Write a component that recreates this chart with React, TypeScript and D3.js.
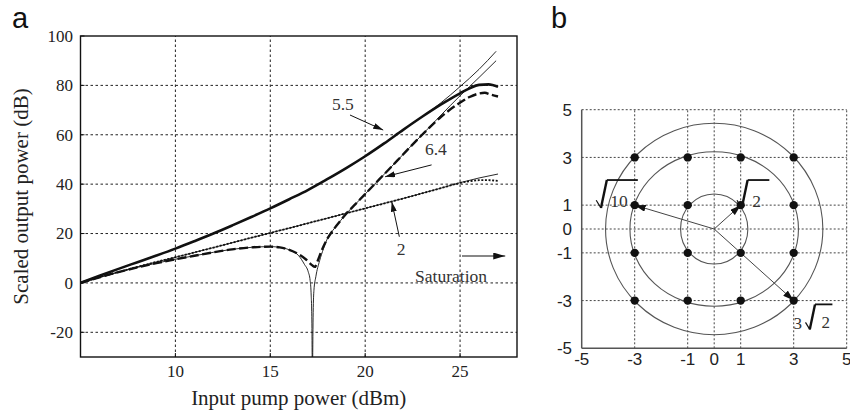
import React from 'react';
import * as d3 from 'd3';

// ---------- Panel a data ----------
const aXTicks = [10, 15, 20, 25];
const aYTicks = [-20, 0, 20, 40, 60, 80, 100];
const aXGrid = [10, 15, 20, 25];
const aYGrid = [-20, 0, 20, 40, 60, 80];

// saturated, 5.5 (thick solid)
const sat55X = [5, 6, 7, 8, 9, 10, 11, 12, 13, 14, 15, 16, 17, 18, 19, 20, 21, 22, 23, 24, 25, 25.5, 26, 26.5, 27];
const sat55Y = [0, 2.9, 5.7, 8.4, 11.1, 13.9, 16.9, 20, 23.3, 26.7, 30.2, 33.9, 37.7, 42, 46.5, 51.3, 56.5, 62, 67.3, 72.3, 76.8, 78.8, 80.2, 80.4, 79.4];
// unsaturated, 5.5 (thin solid)
const ideal55X = [5, 6, 7, 8, 9, 10, 11, 12, 13, 14, 15, 16, 17, 18, 19, 20, 21, 22, 23, 24, 25, 26, 26.9];
const ideal55Y = [0, 2.9, 5.7, 8.4, 11.1, 13.9, 16.9, 20, 23.3, 26.7, 30.2, 33.9, 37.7, 42, 46.5, 51.3, 56.5, 62, 67.3, 73, 79.5, 86.5, 93.8];
// saturated, 6.4 (thick dashed)
const sat64X = [5, 6, 7, 8, 9, 10, 11, 12, 13, 14, 15, 15.5, 16, 16.5, 16.9, 17.2, 17.35, 17.5, 17.7, 18, 18.4, 18.7, 19, 19.5, 20, 20.5, 21, 21.7, 22.3, 23, 24, 25, 25.5, 26, 26.3, 26.6, 27];
const sat64Y = [0, 2.3, 4.4, 6.3, 8, 9.6, 11, 12.4, 13.6, 14.4, 14.7, 14.4, 13.4, 11.6, 9.4, 7.2, 6.5, 9, 13, 17.8, 22.3, 25.2, 28, 32, 36, 40, 44, 49.6, 54.5, 60, 67.3, 73, 75.3, 76.7, 77, 76.3, 75.5];
// unsaturated, 6.4 (thin solid, two branches around the null)
const ideal64LeftX = [5, 6, 7, 8, 9, 10, 11, 12, 13, 14, 15, 15.5, 16, 16.5, 16.8, 17.0, 17.1, 17.15, 17.19, 17.21];
const ideal64LeftY = [0, 2.3, 4.4, 6.3, 8, 9.6, 11, 12.4, 13.6, 14.4, 14.7, 14.4, 13.4, 11, 7.5, 4.5, 1, -4, -15, -35];
const ideal64RightX = [17.23, 17.26, 17.3, 17.4, 17.6, 17.8, 18, 18.4, 18.7, 19, 19.5, 20, 20.5, 21, 21.7, 22.3, 23, 24, 25, 26, 26.9];
const ideal64RightY = [-35, -12, -3, 2.5, 9, 13.8, 17.8, 22.3, 25.2, 28, 32, 36, 40, 44, 49.6, 54.5, 60, 68, 75.8, 83.2, 90];
// 2 (thin solid + dotted)
const ideal2X = [5, 6, 7, 8, 9, 10, 12, 14, 16, 18, 20, 22, 24, 25, 26, 27];
const ideal2Y = [0, 2.3, 4.4, 6.5, 8.5, 10.4, 14.3, 18.3, 22.2, 26.2, 30.2, 34.2, 38.4, 40.6, 42.5, 44.1];
const sat2X = [5, 6, 7, 8, 9, 10, 12, 14, 16, 18, 20, 22, 24, 25, 25.5, 26, 26.5, 27];
const sat2Y = [0, 2.3, 4.4, 6.5, 8.5, 10.4, 14.3, 18.3, 22.2, 26.2, 30.2, 34.2, 38.4, 40.5, 41.2, 41.6, 41.6, 41.3];

// annotations (data coords)
const annLabels = ['5.5', '6.4', '2'];
const annTextX = [18.25, 23.15, 21.9];
const annTextY = [70, 51.8, 11.3];
const annFromX = [19.2, 23.5, 21.8];
const annFromY = [68, 47.8, 18.7];
const annToX = [20.95, 21.05, 21.4];
const annToY = [61.9, 43.0, 32.9];
const satLabel = 'Saturation';
const satTextX = 22.63;
const satTextY = 0.4;
const satArrowX = [25.1, 27.38];
const satArrowY = 10.9;

// ---------- Panel b data ----------
const bTicks = [-5, -3, -1, 0, 1, 3, 5];
const bGrid = [-3, -1, 0, 1, 3, 5];
const qamI = [-3, -1, 1, 3];
const qamQ = [-3, -1, 1, 3];
const ringRx = [1.27, 3.18, 4.1];
const ringRy = [1.47, 3.24, 4.43];
const vecI = [1, -3, 3];
const vecQ = [1, 1, -3];

const SERIF = "'Liberation Serif', 'Times New Roman', serif";
const SANS = "'Liberation Sans', Arial, sans-serif";

const aX = d3.scaleLinear().domain([5, 28]).range([80.5, 517]);
const aY = d3.scaleLinear().domain([-30, 100]).range([357, 36]);
const bX = d3.scaleLinear().domain([-5, 5]).range([581.7, 846.7]);
const bY = d3.scaleLinear().domain([-5, 5]).range([348.3, 109.7]);

const zip = (xs: number[], ys: number[]) => xs.map((x, i) => [x, ys[i]] as [number, number]);
const lineA = d3
  .line<[number, number]>()
  .x((d) => aX(d[0]))
  .y((d) => aY(d[1]))
  .curve(d3.curveMonotoneX);

function Radical({ x, y, h, w, text, fs, gap }: { x: number; y: number; h: number; w: number; text: string; fs: number; gap: number }) {
  const x1 = x + 0.17 * h;
  const x2 = x + 0.38 * h;
  return (
    <g>
      <path d={`M${x},${y - 0.28 * h} L${x1},${y}`} stroke="#111" strokeWidth={1.2} fill="none" />
      <path d={`M${x1},${y} L${x2},${y - h}`} stroke="#111" strokeWidth={2.4} fill="none" />
      <path d={`M${x2},${y - h} L${x2 + w},${y - h}`} stroke="#111" strokeWidth={1.8} fill="none" />
      <text x={x2 + gap} y={y - 1} fontSize={fs} fontFamily={SERIF} fill="#333">
        {text}
      </text>
    </g>
  );
}

export default function App() {
  const [ax0, ax1] = aX.range();
  const [ay0, ay1] = aY.range();
  const [bx0, bx1] = bX.range();
  const [by0, by1] = bY.range();

  return (
    <svg width={850} height={410} style={{ position: 'absolute', left: 0, top: 0, background: '#fff' }}>
      <defs>
        <clipPath id="clipA">
          <rect x={ax0} y={ay1} width={ax1 - ax0} height={ay0 - ay1} />
        </clipPath>
        <marker id="arrA" viewBox="0 0 10 6" refX={10} refY={3} markerWidth={10} markerHeight={6} markerUnits="userSpaceOnUse" orient="auto">
          <path d="M0,0 L10,3 L0,6 Z" fill="#111" />
        </marker>
        <marker id="arrS" viewBox="0 0 12 7" refX={12} refY={3.5} markerWidth={12} markerHeight={7} markerUnits="userSpaceOnUse" orient="auto">
          <path d="M0,0 L12,3.5 L0,7 Z" fill="#111" />
        </marker>
        <marker id="arrB" viewBox="0 0 11 7" refX={11} refY={3.5} markerWidth={11} markerHeight={7} markerUnits="userSpaceOnUse" orient="auto">
          <path d="M0,0 L11,3.5 L0,7 Z" fill="#111" />
        </marker>
      </defs>

      {/* ================= Panel a ================= */}
      <text x={12} y={28} fontSize={29} fontFamily={SANS} fill="#111">
        a
      </text>
      {aXGrid.map((t) => (
        <line key={'gx' + t} x1={aX(t)} x2={aX(t)} y1={ay0} y2={ay1} stroke="#222" strokeWidth={1} strokeDasharray="2.5,2.5" />
      ))}
      {aYGrid.map((t) => (
        <line key={'gy' + t} x1={ax0} x2={ax1} y1={aY(t)} y2={aY(t)} stroke="#222" strokeWidth={1} strokeDasharray="2.5,2.5" />
      ))}
      <g clipPath="url(#clipA)" fill="none">
        <path d={lineA(zip(ideal2X, ideal2Y)) || ''} stroke="#111" strokeWidth={0.9} />
        <path d={lineA(zip(sat2X, sat2Y)) || ''} stroke="#111" strokeWidth={1.8} strokeDasharray="2,1.6" />
        <path d={lineA(zip(ideal64LeftX, ideal64LeftY)) || ''} stroke="#111" strokeWidth={0.9} />
        <path d={lineA(zip(ideal64RightX, ideal64RightY)) || ''} stroke="#111" strokeWidth={0.9} />
        <path d={lineA(zip(sat64X, sat64Y)) || ''} stroke="#111" strokeWidth={2.4} strokeDasharray="9,3.5" />
        <path d={lineA(zip(ideal55X, ideal55Y)) || ''} stroke="#111" strokeWidth={0.9} />
        <path d={lineA(zip(sat55X, sat55Y)) || ''} stroke="#111" strokeWidth={2.6} />
      </g>
      <rect x={ax0} y={ay1} width={ax1 - ax0} height={ay0 - ay1} fill="none" stroke="#111" strokeWidth={1.4} />
      {aYTicks.map((t) => (
        <g key={'yt' + t}>
          <line x1={ax0} x2={ax0 + 4} y1={aY(t)} y2={aY(t)} stroke="#111" strokeWidth={1} />
          <text x={73} y={aY(t)} dy="0.35em" textAnchor="end" fontSize={17} fontFamily={SERIF} fill="#222">
            {t < 0 ? '-' + Math.abs(t) : String(t)}
          </text>
        </g>
      ))}
      {aXTicks.map((t) => (
        <g key={'xt' + t}>
          <line x1={aX(t)} x2={aX(t)} y1={ay0} y2={ay0 - 4} stroke="#111" strokeWidth={1} />
          <text x={aX(t)} y={377} textAnchor="middle" fontSize={17} fontFamily={SERIF} fill="#222">
            {t}
          </text>
        </g>
      ))}
      <text x={(ax0 + ax1) / 2} y={405} textAnchor="middle" fontSize={21} fontFamily={SERIF} fill="#222">
        Input pump power (dBm)
      </text>
      <text transform={`translate(28,${(ay0 + ay1) / 2}) rotate(-90)`} textAnchor="middle" fontSize={21} fontFamily={SERIF} fill="#222">
        Scaled output power (dB)
      </text>
      {annLabels.map((lab, i) => (
        <g key={'ann' + i}>
          <text
            x={aX(annTextX[i])}
            y={aY(annTextY[i])}
            textAnchor={lab === '2' ? 'middle' : 'start'}
            fontSize={17.5}
            fontFamily={SERIF}
            fill="#333"
          >
            {lab}
          </text>
          <line x1={aX(annFromX[i])} y1={aY(annFromY[i])} x2={aX(annToX[i])} y2={aY(annToY[i])} stroke="#111" strokeWidth={1} markerEnd="url(#arrA)" />
        </g>
      ))}
      <text x={aX(satTextX)} y={aY(satTextY)} fontSize={17.5} fontFamily={SERIF} fill="#333">
        {satLabel}
      </text>
      <line x1={aX(satArrowX[0])} x2={aX(satArrowX[1])} y1={aY(satArrowY)} y2={aY(satArrowY)} stroke="#111" strokeWidth={1.2} markerEnd="url(#arrS)" />

      {/* ================= Panel b ================= */}
      <text x={551} y={28} fontSize={29} fontFamily={SANS} fill="#111">
        b
      </text>
      {bGrid.map((t) => (
        <g key={'bg' + t}>
          <line x1={bX(t)} x2={bX(t)} y1={by0} y2={by1} stroke="#444" strokeWidth={1} strokeDasharray="2,2" />
          <line x1={bx0} x2={bx1} y1={bY(t)} y2={bY(t)} stroke="#444" strokeWidth={1} strokeDasharray="2,2" />
        </g>
      ))}
      <line x1={bx0} x2={bx0} y1={by0} y2={by1} stroke="#555" strokeWidth={1.5} />
      <line x1={bx0} x2={bx1} y1={by0} y2={by0} stroke="#555" strokeWidth={1.5} />
      {bTicks.map((t) => (
        <g key={'bt' + t}>
          <text x={572} y={bY(t)} dy="0.36em" textAnchor="end" fontSize={17} fontFamily={SANS} fill="#222">
            {String(t)}
          </text>
          <text x={bX(t)} y={364.5} textAnchor="middle" fontSize={17} fontFamily={SANS} fill="#222">
            {String(t)}
          </text>
        </g>
      ))}
      {ringRx.map((rx, i) => (
        <ellipse
          key={'ring' + i}
          cx={bX(0)}
          cy={bY(0)}
          rx={bX(rx) - bX(0)}
          ry={bY(0) - bY(ringRy[i])}
          fill="none"
          stroke="#555"
          strokeWidth={1.1}
        />
      ))}
      {vecI.map((vi, i) => (
        <line key={'vec' + i} x1={bX(0)} y1={bY(0)} x2={bX(vi)} y2={bY(vecQ[i])} stroke="#444" strokeWidth={1} markerEnd="url(#arrB)" />
      ))}
      {qamI.map((qi) =>
        qamQ.map((qq) => <circle key={'p' + qi + '_' + qq} cx={bX(qi)} cy={bY(qq)} r={4.2} fill="#111" />)
      )}
      <Radical x={bX(vecI[1]) - 38.5} y={bY(vecQ[1]) + 2.9} h={28} w={31} text="10" fs={17.5} gap={3.5} />
      <Radical x={bX(vecI[0]) - 3.7} y={bY(vecQ[0]) + 2.9} h={28} w={21.7} text="2" fs={17.5} gap={4.5} />
      <text x={bX(vecI[2]) - 0.2} y={bY(vecQ[2]) + 28.8} fontSize={17} fontFamily={SERIF} fill="#333">
        3
      </text>
      <Radical x={bX(vecI[2]) + 11.8} y={bY(vecQ[2]) + 28.8} h={25} w={17.4} text="2" fs={17} gap={6.5} />
    </svg>
  );
}
